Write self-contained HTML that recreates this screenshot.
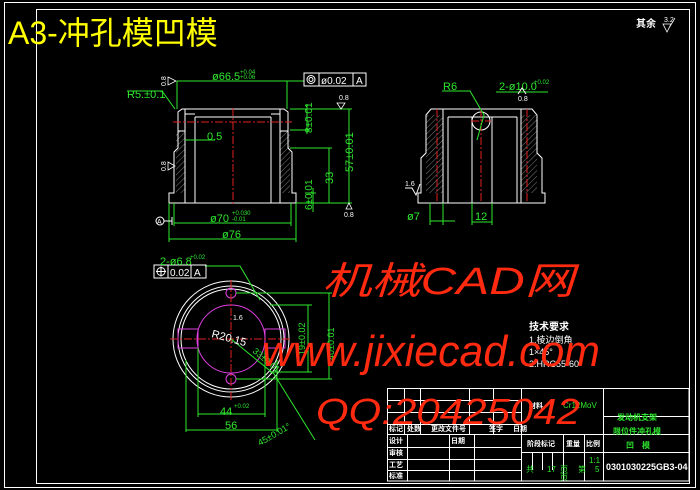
<!DOCTYPE html>
<html><head><meta charset="utf-8"><style>
html,body{margin:0;padding:0;background:#000;}
svg{display:block;}
text{font-family:"Liberation Sans","Noto Sans CJK SC",sans-serif;}
</style></head><body>
<svg width="700" height="490" viewBox="0 0 700 490" xmlns="http://www.w3.org/2000/svg">
<rect width="700" height="490" fill="#000"/>
<rect x="4.5" y="2.5" width="691" height="485" fill="none" stroke="#fff" stroke-width="1"/>
<rect x="36.5" y="9.5" width="653" height="474" fill="none" stroke="#fff" stroke-width="1"/>
<text x="8" y="44" font-size="32" fill="#ffff00" font-family="Liberation Mono,Noto Sans CJK SC,monospace">A3-冲孔模凹模</text>
<text x="636" y="27" font-size="10" fill="#fff" font-weight="bold">其余</text>
<text x="664" y="22" font-size="7" fill="#fff">3.2</text>
<path d="M663 24 L671 24 L667 32 Z M669 28 L675 18" fill="none" stroke="#fff" stroke-width="0.8"/>

<g fill="none" stroke-width="1">
<pattern id="h" width="4" height="4" patternUnits="userSpaceOnUse" patternTransform="rotate(45)"><line x1="0" y1="0" x2="0" y2="4" stroke="#999" stroke-width="0.8"/></pattern>
<rect x="176" y="131" width="9" height="62" fill="url(#h)"/>
<rect x="280" y="131" width="10" height="62" fill="url(#h)"/>
<path d="M178 112 L182 109 L284 109 L288 112 L288 148 L292 152 L292 193 L296 193 L296 203 L169 203 L169 193 L174 193 L174 152 L178 148 Z" stroke="#fff"/>
<path d="M195 117 L195 203 M271 117 L271 203 M195 117 L271 117 M185 109 L185 203 M280 109 L280 203 M178 131 L185 131 M280 131 L288 131 M185 114 L195 114 M271 114 L280 114" stroke="#fff"/>
<path d="M233 108 L233 204 M173 122 L292 122" stroke="#e02020" stroke-dasharray="8 2 2 2"/>
<g stroke="#2ee82e">
<path d="M177 81 L287 81 M177 81 L177 109 M287 81 L287 109 M287 81 L304 81"/>
<path d="M174 223 L291 223 M169 239 L296 239 M174 203 L174 226 M291 203 L291 226 M169 203 L169 242 M296 203 L296 242"/>
<path d="M290 109 L352 109 M296 203 L352 203 M349 109 L349 203 M290 148 L332 148 M329 148 L329 203 M305 193 L316 193 M313 188 L313 212 M307 104 L307 134 M290 130 L310 130"/>
<path d="M185 140 L215 140 M127 91 L162 91 L175 109"/>
</g>
</g>
<g fill="#2ee82e" font-size="11">
<text x="212" y="80">ø66.5</text><text x="240" y="74" font-size="6">+0.04</text><text x="240" y="79" font-size="6">+0.06</text>
<text x="127" y="98">R5.±0.1</text>
<text x="207" y="140">0.5</text>
<text x="210" y="222">ø70</text><text x="232" y="215" font-size="6">+0.030</text><text x="232" y="221" font-size="6">-0.01</text>
<text x="222" y="238">ø76</text>
<text transform="translate(353,172) rotate(-90)">57±0.01</text>
<text transform="translate(333,184) rotate(-90)">33</text>
<text transform="translate(312,210) rotate(-90)" font-size="10">6±0.01</text>
<text transform="translate(312,133) rotate(-90)" font-size="10">8±0.01</text>
</g>
<rect x="304" y="73" width="62" height="13" fill="none" stroke="#fff"/>
<path d="M319 73 L319 86 M353 73 L353 86" stroke="#fff"/>
<circle cx="311" cy="79.5" r="4" fill="none" stroke="#fff"/><circle cx="311" cy="79.5" r="2" fill="none" stroke="#fff"/>
<text x="321" y="84" font-size="10" fill="#fff">ø0.02</text><text x="356" y="84" font-size="10" fill="#fff">A</text>
<path d="M168 77 L176 81 L168 85 Z M337 103 L345 103 L341 109 Z M346 209 L352 209 L349 203 Z M168 162 L175 166 L168 170 Z" fill="none" stroke="#fff" stroke-width="0.8"/>
<g fill="#fff" font-size="7">
<text transform="translate(166,86) rotate(-90)">0.8</text>
<text x="339" y="100">0.8</text><text x="344" y="217">0.8</text>
<text transform="translate(166,171) rotate(-90)">0.8</text>
</g>
<circle cx="160" cy="221" r="4" fill="none" stroke="#fff"/><text x="157" y="224" font-size="7" fill="#fff">A</text>
<path d="M164 221 L172 221 M172 217 L172 225" stroke="#fff"/>

<rect x="426" y="115" width="17" height="78" fill="url(#h)"/>
<rect x="521" y="115" width="16" height="78" fill="url(#h)"/>
<g fill="none" stroke="#fff">
<path d="M426 115 L431 109 L532 109 L537 115 L537 153 L542 158 L542 193 L545 193 L545 203 L418 203 L418 193 L421 193 L421 158 L426 153 Z"/>
<path d="M443 109 L443 203 M448 117 L448 203 M517 117 L517 203 M521 109 L521 203 M448 117 L517 117 M472 117 L472 203 M492 117 L492 203"/>
<circle cx="481" cy="121" r="9"/>
</g>
<path d="M437 109 L437 203 M481 109 L481 203 M527 109 L527 203 M471 121 L491 121" stroke="#e02020" stroke-dasharray="8 2 2 2"/>
<g stroke="#2ee82e" fill="none">
<path d="M442 91 L470 91 L484 115 L477 140 M496 92 L548 92 M430 221 L455 221 M430 203 L430 225 M443 203 L443 225 M472 203 L472 225 M492 203 L492 225 M472 222 L492 222"/>
</g>
<g fill="#2ee82e" font-size="11">
<text x="443" y="90">R6</text><text x="499" y="90">2-ø10.0</text><text x="534" y="84" font-size="6">+0.02</text>
<text x="407" y="220">ø7</text><text x="475" y="220">12</text>
</g>
<text x="405" y="186" font-size="7" fill="#fff">1.6</text>
<path d="M405 188 L412 188 L416 195 L420 184" stroke="#fff" fill="none"/>
<text x="518" y="101" font-size="7" fill="#fff">0.8</text>
<path d="M518 94 L522 88 L526 94" stroke="#fff" fill="none"/>

<g fill="none">
<circle cx="231" cy="339" r="58" stroke="#fff"/>
<circle cx="231" cy="339" r="53" stroke="#fff"/>
<circle cx="231" cy="339" r="50" stroke="#fff"/>
<circle cx="231" cy="339" r="34" stroke="#e040e0"/>
<rect x="178" y="329" width="20" height="19" stroke="#e040e0"/>
<rect x="265" y="329" width="20" height="19" stroke="#e040e0"/>
<circle cx="231" cy="293" r="5" stroke="#e040e0"/>
<circle cx="231" cy="379" r="5" stroke="#e040e0"/>
<path d="M231 280 L231 400 M170 339 L292 339" stroke="#e02020" stroke-dasharray="8 2 2 2"/>
<g stroke="#2ee82e">
<path d="M236 293 L332 293 M236 379 L332 379 M329 293 L329 379 M270 305 L312 305 M270 372 L312 372 M308 305 L308 372 M198 348 L198 417 M265 348 L265 417 M198 414 L265 414 M186 360 L186 432 M277 360 L277 432 M186 430 L277 430 M231 339 L274 374 L315 440 M205 266 L240 266 L260 300"/>
</g>
</g>
<rect x="154" y="265" width="52" height="13" fill="none" stroke="#fff"/>
<path d="M168 265 L168 278 M191 265 L191 278" stroke="#fff"/>
<circle cx="161" cy="271.5" r="4" fill="none" stroke="#fff"/><path d="M156 271.5 L166 271.5 M161 266.5 L161 276.5" stroke="#fff"/>
<text x="170" y="276" font-size="10" fill="#fff">0.02</text><text x="194" y="276" font-size="10" fill="#fff">A</text>
<text x="211" y="337" font-size="11" fill="#fff" transform="rotate(15 211 337)">R20.15</text>
<text x="233" y="320" font-size="7" fill="#fff">1.6</text>
<g fill="#2ee82e" font-size="11">
<text x="160" y="265">2-ø6.8</text><text x="190" y="259" font-size="6">+0.02</text>
<text x="220" y="415">44</text><text x="234" y="408" font-size="6">+0.02</text>
<text x="225" y="429">56</text>
<text transform="translate(252,352) rotate(40)" font-size="9">33±0.01</text>
<text transform="translate(260,446) rotate(-30)" font-size="9">45±0.01°</text>
<text transform="translate(305,355) rotate(-90)" font-size="9">19±0.02</text>
<text transform="translate(334,360) rotate(-90)" font-size="9">40±0.01</text>
</g>

<g fill="#fff" font-size="10">
<text x="529" y="330" font-weight="bold">技术要求</text>
<text x="529" y="343" font-size="9">1.棱边倒角</text>
<text x="529" y="355" font-size="9">1×45°</text>
<text x="529" y="367" font-size="9">2.HRC55-60</text>
</g>

<g stroke="#fff" fill="none" stroke-width="1">
<rect x="387.5" y="388.5" width="301.5" height="92.5"/>
<path d="M387 400.5 L521 400.5 M387 412.5 L521 412.5 M387 424.5 L521 424.5 M387 434.5 L689 434.5 M387 447.5 L521 447.5 M387 459.5 L521 459.5 M387 470.5 L521 470.5"/>
<path d="M404.5 388 L404.5 434 M420.5 388 L420.5 434 M469.5 388 L469.5 434 M493.5 388 L493.5 434 M521.5 388 L521.5 481 M603.5 388 L603.5 481"/>
<path d="M407.5 434 L407.5 481 M449.5 434 L449.5 481 M474.5 434 L474.5 481"/>
<path d="M521 452.5 L689 452.5 M603 416.5 L689 416.5 M563.5 434 L563.5 481 M584.5 434 L584.5 481 M532.5 452 L532.5 470 M542.5 452 L542.5 470 M552.5 452 L552.5 470"/>
</g>
<g fill="#fff" font-size="7" font-weight="bold">
<text x="389" y="431">标记</text><text x="407" y="431">处数</text><text x="431" y="431">更改文件号</text><text x="489" y="431">签字</text><text x="513" y="431">日期</text>
<text x="389" y="443">设计</text><text x="451" y="443">日期</text>
<text x="389" y="455">审核</text><text x="389" y="467">工艺</text><text x="389" y="478">标准</text>
<text x="527" y="446">阶段标记</text><text x="566" y="446">重量</text><text x="586" y="446">比例</text>
<text x="529" y="408">材料</text>
<text x="606" y="470" font-size="9">0301030225GB3-04</text>
</g>
<g fill="#2ee82e" font-size="8">
<text x="563" y="408">Cr12MoV</text>
<text x="589" y="463">1:1</text>
<text x="526" y="472">共</text><text x="547" y="472">17</text><text x="560" y="472">页</text><text x="578" y="472">第</text><text x="595" y="472">5</text><text x="560" y="480">页</text>
<text x="617" y="420" font-weight="bold">发动机支架</text>
<text x="613" y="434" font-weight="bold">限位件冲孔模</text>
<text x="626" y="448" font-weight="bold">凹　模</text>
</g>

<g fill="#ff2a10" font-style="italic" font-family="Liberation Sans,Noto Sans CJK SC,sans-serif">
<text x="322" y="294" font-size="38" textLength="252" lengthAdjust="spacingAndGlyphs">机械CAD网</text>
<text x="262" y="366" font-size="44" textLength="338" lengthAdjust="spacingAndGlyphs">www.jixiecad.com</text>
<text x="316" y="424" font-size="36" textLength="264" lengthAdjust="spacingAndGlyphs">QQ:20425042</text>
</g>
</svg>
</body></html>
